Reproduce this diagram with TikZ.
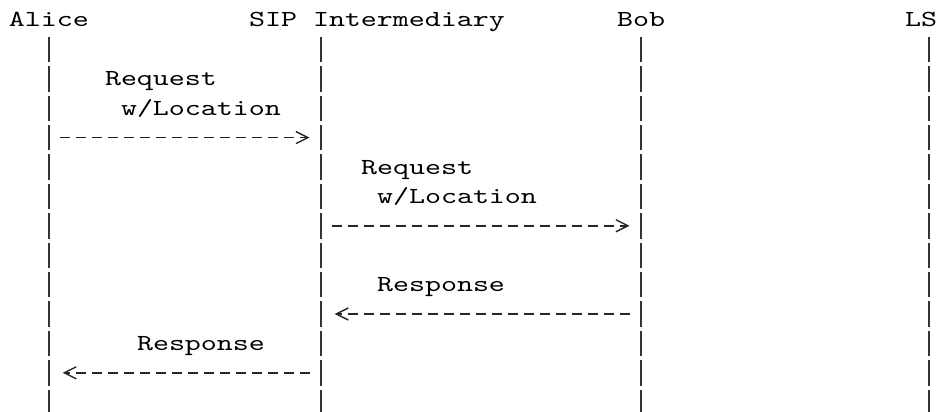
\documentclass[tikz,border=0pt]{standalone}
\usepackage{fontspec}
\usetikzlibrary{arrows.meta}
% typewriter face, widened so one character takes 16pt
\newfontfamily\seqfont{lmmono10-regular.otf}[FakeStretch=1.325]
\begin{document}
\begin{tikzpicture}[x=1pt,y=-1pt,
  every node/.style={inner sep=0pt, outer sep=0pt,
    font=\seqfont\fontsize{23}{28}\selectfont},
  actor/.style={anchor=base west},
  msglabel/.style={anchor=base west},
  lifeline/.style={line width=1.3pt, draw=black!80, dash pattern=on 25.4pt off 4pt},
  message/.style={line width=1.4pt, draw=black!85, dash pattern=on 10.5pt off 5.5pt,
    -{Straight Barb[length=12pt,width=12pt,sep=2pt]}}]
\useasboundingbox (0,0) rectangle (937,412);

% participants
\node[actor] (alice) at (9,27)   {Alice};
\node[actor] (sip)   at (249,27) {SIP Intermediary};
\node[actor] (bob)   at (617,27) {Bob};
\node[actor] (ls)    at (905,27) {LS};

% lifelines
\foreach \n/\x in {alice/49, sip/321, bob/641, ls/929} {
  \coordinate (\n top) at (\x,36.7);
  \coordinate (\n bottom) at (\x,412);
  \draw[lifeline] (\n top) -- (\n bottom);
}

% message end points on the lifelines
\coordinate (m1 from) at (59.5,137.6);  \coordinate (m1 to) at (311.5,137.6);
\coordinate (m2 from) at (331.5,225.8); \coordinate (m2 to) at (631.5,225.8);
\coordinate (m3 from) at (630,314);     \coordinate (m3 to) at (332.7,314);
\coordinate (m4 from) at (310,372.8);   \coordinate (m4 to) at (60.7,372.8);

% messages
\draw[message] (m1 from) -- (m1 to);
\draw[message] (m2 from) -- (m2 to);
\draw[message] (m3 from) -- (m3 to);
\draw[message] (m4 from) -- (m4 to);

% message labels
\node[msglabel] (req1)  at (105,85.8)  {Request};
\node[msglabel] (loc1)  at (121,115.2) {w/Location};
\node[msglabel] (req2)  at (361,174)   {Request};
\node[msglabel] (loc2)  at (377,203.4) {w/Location};
\node[msglabel] (resp1) at (377,291.6) {Response};
\node[msglabel] (resp2) at (137,350.4) {Response};
\end{tikzpicture}
\end{document}
